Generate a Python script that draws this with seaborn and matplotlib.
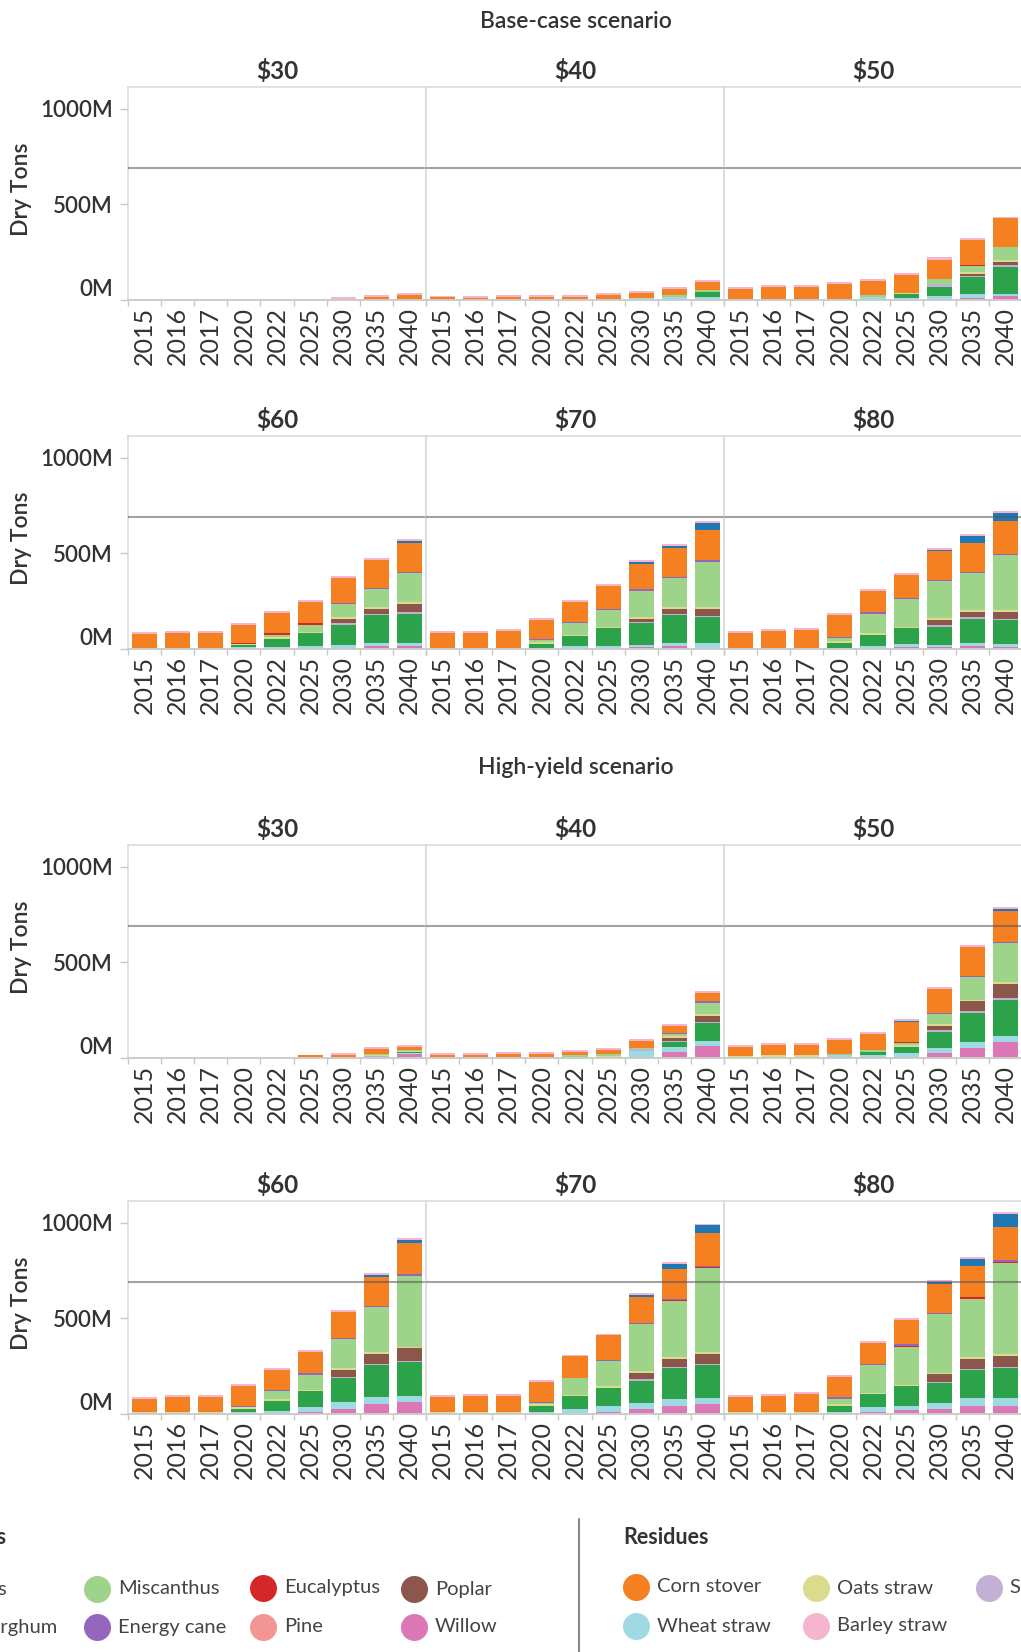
import numpy as np
import pandas as pd
import matplotlib.pyplot as plt
import seaborn as sns

years = ["2015", "2016", "2017", "2020", "2022", "2025", "2030", "2035", "2040"]
prices = ["$30", "$40", "$50", "$60", "$70", "$80"]
scenarios = ["Base-case scenario", "High-yield scenario"]
ref_level = 690  # grey reference line, million dry tons

# Million dry tons. One row per panel, in this order:
# base-case $30, $40, $50, $60, $70, $80, then high-yield $30 ... $80
willow = [
    [0, 0, 0, 0, 0, 0, 0, 0, 0],
    [0, 0, 0, 0, 0, 0, 0, 0, 5],
    [0, 0, 0, 0, 0, 0, 5, 10, 19],
    [0, 0, 0, 0, 0, 3, 7, 17, 17],
    [0, 0, 0, 0, 3, 3, 9, 17, 7],
    [0, 0, 0, 0, 3, 9, 9, 17, 9],
    [0, 0, 0, 0, 0, 0, 0, 5, 19],
    [0, 0, 0, 0, 0, 0, 5, 30, 61],
    [0, 0, 0, 0, 0, 3, 28, 54, 86],
    [0, 0, 0, 0, 3, 9, 24, 51, 61],
    [0, 0, 0, 0, 0, 9, 24, 40, 51],
    [0, 0, 0, 0, 9, 19, 24, 40, 40],
]
wheat_straw = [
    [0, 0, 0, 0, 0, 0, 0, 0, 0],
    [0, 0, 0, 0, 0, 2, 8, 14, 9],
    [0, 0, 0, 5, 17, 12, 15, 19, 14],
    [0, 0, 0, 9, 9, 14, 16, 16, 16],
    [0, 0, 0, 7, 14, 14, 14, 16, 26],
    [0, 0, 0, 7, 14, 19, 14, 16, 19],
    [0, 0, 0, 0, 0, 2, 2, 0, 8],
    [0, 0, 0, 0, 7, 5, 30, 26, 26],
    [3, 5, 5, 14, 14, 24, 26, 31, 31],
    [3, 3, 3, 9, 14, 26, 37, 37, 31],
    [3, 3, 3, 9, 24, 31, 31, 37, 31],
    [3, 3, 3, 9, 26, 21, 31, 42, 42],
]
switchgrass = [
    [0, 0, 0, 0, 0, 0, 0, 0, 0],
    [0, 0, 0, 0, 0, 0, 0, 0, 26],
    [0, 0, 0, 0, 0, 17, 50, 94, 138],
    [0, 0, 0, 10, 42, 68, 105, 147, 152],
    [0, 0, 0, 21, 52, 94, 115, 147, 136],
    [0, 0, 0, 26, 58, 84, 94, 126, 126],
    [0, 0, 0, 0, 0, 0, 0, 0, 3],
    [0, 0, 0, 0, 0, 0, 0, 26, 94],
    [0, 0, 0, 0, 17, 31, 84, 152, 188],
    [0, 0, 0, 16, 52, 84, 126, 168, 178],
    [0, 0, 0, 31, 68, 94, 120, 162, 173],
    [0, 0, 0, 31, 68, 105, 105, 147, 157],
]
sorghum_stubble = [
    [0, 0, 0, 0, 0, 0, 0, 0, 0],
    [0, 0, 0, 0, 0, 0, 0, 0, 0],
    [0, 0, 0, 0, 0, 0, 12, 5, 10],
    [0, 0, 0, 0, 0, 0, 10, 5, 10],
    [0, 0, 0, 0, 0, 0, 5, 5, 5],
    [0, 0, 0, 0, 0, 0, 10, 10, 5],
    [0, 0, 0, 0, 0, 0, 0, 7, 0],
    [0, 0, 0, 0, 0, 0, 10, 7, 7],
    [0, 0, 0, 0, 0, 0, 7, 10, 10],
    [0, 0, 0, 0, 0, 0, 5, 5, 10],
    [0, 0, 0, 0, 0, 0, 10, 5, 5],
    [0, 0, 0, 0, 0, 0, 10, 5, 5],
]
poplar = [
    [0, 0, 0, 0, 0, 0, 0, 0, 0],
    [0, 0, 0, 0, 0, 0, 0, 0, 0],
    [0, 0, 0, 0, 0, 0, 0, 9, 16],
    [0, 0, 0, 0, 0, 0, 21, 26, 42],
    [0, 0, 0, 0, 0, 0, 16, 26, 37],
    [0, 0, 0, 0, 0, 0, 26, 26, 37],
    [0, 0, 0, 0, 0, 0, 0, 0, 0],
    [0, 0, 0, 0, 0, 0, 0, 17, 33],
    [0, 0, 0, 0, 0, 0, 24, 52, 73],
    [0, 0, 0, 0, 0, 0, 37, 52, 68],
    [0, 0, 0, 0, 0, 0, 31, 42, 52],
    [0, 0, 0, 0, 0, 0, 42, 52, 58],
]
oats_straw = [
    [0, 0, 0, 0, 0, 0, 0, 0, 0],
    [0, 0, 0, 0, 0, 0, 0, 0, 0],
    [0, 0, 0, 0, 0, 10, 0, 8, 10],
    [5, 7, 7, 9, 10, 5, 10, 10, 10],
    [7, 7, 7, 7, 5, 5, 10, 10, 10],
    [7, 7, 7, 10, 10, 5, 10, 10, 10],
    [0, 0, 0, 0, 0, 0, 0, 5, 5],
    [5, 5, 3, 3, 0, 5, 0, 9, 10],
    [5, 9, 9, 0, 0, 10, 10, 5, 10],
    [9, 9, 9, 10, 10, 5, 10, 10, 5],
    [9, 9, 9, 10, 10, 10, 10, 10, 10],
    [9, 9, 9, 10, 5, 5, 5, 10, 10],
]
miscanthus = [
    [0, 0, 0, 0, 0, 0, 0, 0, 0],
    [0, 0, 0, 0, 0, 0, 5, 10, 12],
    [0, 0, 0, 0, 8, 0, 28, 35, 68],
    [0, 0, 0, 0, 14, 37, 68, 93, 152],
    [0, 0, 0, 10, 63, 89, 136, 152, 236],
    [0, 0, 0, 16, 99, 147, 194, 194, 288],
    [0, 0, 0, 0, 0, 0, 0, 5, 5],
    [0, 0, 0, 0, 9, 10, 7, 9, 59],
    [0, 0, 0, 5, 12, 10, 52, 120, 204],
    [0, 0, 0, 3, 42, 79, 152, 236, 372],
    [0, 0, 0, 10, 84, 136, 246, 293, 440],
    [0, 0, 0, 31, 147, 199, 309, 304, 476],
]
eucalyptus = [
    [0, 0, 0, 0, 0, 0, 0, 0, 0],
    [0, 0, 0, 0, 0, 0, 0, 0, 0],
    [0, 0, 0, 0, 0, 0, 0, 5, 5],
    [0, 0, 0, 3, 10, 10, 0, 0, 0],
    [0, 0, 0, 0, 0, 0, 0, 0, 0],
    [0, 0, 0, 0, 0, 0, 0, 0, 0],
    [0, 0, 0, 0, 0, 0, 0, 0, 0],
    [0, 0, 0, 0, 0, 0, 0, 0, 0],
    [0, 0, 0, 0, 0, 7, 0, 0, 0],
    [0, 0, 0, 0, 0, 0, 0, 0, 0],
    [0, 0, 0, 0, 0, 0, 0, 10, 5],
    [0, 0, 0, 0, 0, 9, 0, 10, 10],
]
energy_cane = [
    [0, 0, 0, 0, 0, 0, 0, 0, 0],
    [0, 0, 0, 0, 0, 0, 0, 0, 0],
    [0, 0, 0, 0, 0, 0, 0, 0, 0],
    [0, 0, 0, 0, 0, 0, 5, 5, 5],
    [0, 0, 0, 5, 5, 5, 10, 5, 10],
    [0, 0, 0, 5, 10, 5, 5, 5, 5],
    [0, 0, 0, 0, 0, 0, 0, 0, 0],
    [0, 0, 0, 0, 0, 0, 0, 5, 10],
    [0, 0, 0, 0, 0, 0, 5, 5, 5],
    [0, 0, 0, 5, 5, 10, 5, 5, 10],
    [0, 0, 0, 5, 5, 5, 5, 5, 10],
    [0, 0, 0, 10, 5, 7, 5, 5, 10],
]
corn_stover = [
    [0, 0, 0, 0, 0, 3, 6, 17, 28],
    [14, 13, 16, 16, 16, 26, 26, 31, 42],
    [58, 68, 68, 77, 73, 94, 100, 131, 147],
    [72, 79, 79, 96, 101, 110, 131, 148, 152],
    [79, 79, 89, 103, 105, 120, 131, 152, 157],
    [79, 89, 94, 115, 110, 120, 152, 152, 173],
    [0, 0, 0, 0, 0, 12, 16, 24, 20],
    [10, 10, 16, 16, 14, 24, 35, 37, 42],
    [51, 56, 56, 77, 84, 103, 126, 152, 162],
    [68, 78, 78, 105, 105, 110, 136, 152, 162],
    [78, 84, 84, 105, 110, 126, 136, 157, 168],
    [78, 84, 94, 105, 110, 126, 152, 162, 173],
]
biomass_sorghum = [
    [0, 0, 0, 0, 0, 0, 0, 0, 0],
    [0, 0, 0, 0, 0, 0, 0, 0, 0],
    [0, 0, 0, 0, 0, 0, 0, 0, 0],
    [0, 0, 0, 0, 0, 0, 0, 0, 10],
    [0, 0, 0, 0, 0, 0, 10, 10, 37],
    [0, 0, 0, 0, 0, 0, 5, 37, 42],
    [0, 0, 0, 0, 0, 0, 0, 0, 0],
    [0, 0, 0, 0, 0, 0, 0, 0, 0],
    [0, 0, 0, 0, 0, 5, 0, 0, 10],
    [0, 0, 0, 0, 0, 0, 0, 10, 16],
    [0, 0, 0, 0, 0, 0, 10, 26, 42],
    [0, 0, 0, 0, 0, 0, 10, 37, 68],
]
barley_straw = [
    [0, 0, 0, 0, 0, 0, 10, 10, 10],
    [9, 10, 10, 10, 10, 10, 10, 12, 10],
    [10, 10, 10, 10, 14, 10, 15, 10, 10],
    [12, 10, 10, 10, 14, 10, 10, 10, 10],
    [10, 10, 10, 10, 10, 10, 10, 10, 10],
    [10, 10, 10, 10, 10, 10, 10, 10, 10],
    [0, 0, 0, 0, 0, 0, 10, 10, 9],
    [9, 9, 10, 10, 10, 10, 10, 10, 10],
    [10, 10, 10, 10, 10, 10, 10, 10, 10],
    [10, 10, 10, 10, 10, 10, 10, 10, 10],
    [10, 10, 10, 10, 10, 10, 10, 10, 10],
    [10, 10, 10, 10, 10, 10, 10, 10, 10],
]

colors = {
    "Switchgrass": "#2ca24a", "Biomass sorghum": "#1f77b4",
    "Miscanthus": "#9ed38a", "Energy cane": "#9467bd",
    "Eucalyptus": "#d62728", "Pine": "#f39593",
    "Poplar": "#8c564b", "Willow": "#db78b5",
    "Corn stover": "#f58021", "Wheat straw": "#9fdae4",
    "Oats straw": "#dbdb8d", "Barley straw": "#f5b5d1",
    "Sorghum stubble": "#c5b0d5",
}

# bottom -> top, the order the segments are stacked in
stack = [
    ("Willow", willow), ("Wheat straw", wheat_straw), ("Switchgrass", switchgrass),
    ("Sorghum stubble", sorghum_stubble), ("Poplar", poplar), ("Oats straw", oats_straw),
    ("Miscanthus", miscanthus), ("Eucalyptus", eucalyptus), ("Energy cane", energy_cane),
    ("Corn stover", corn_stover), ("Biomass sorghum", biomass_sorghum),
    ("Barley straw", barley_straw),
]

records = []
panels = [(s, p) for s in scenarios for p in prices]
for k, (scen, price) in enumerate(panels):
    for name, vals in stack:
        for year, v in zip(years, vals[k]):
            records.append((scen, price, name, year, v))
df = pd.DataFrame(records, columns=["scenario", "price", "feedstock", "year", "tons"])
df["top"] = df.groupby(["scenario", "price", "year"], sort=False)["tons"].cumsum()

sns.set_theme(style="white")
plt.rcParams["font.family"] = ["Lato", "DejaVu Sans"]
TXT = "#333333"
GRID = "#d9d9d9"

W, H = 1021, 1652
fig = plt.figure(figsize=(W / 100, H / 100), dpi=100)

# overlay in pixel coordinates for titles and legend
ov = fig.add_axes([0, 0, 1, 1])
ov.set_xlim(0, W)
ov.set_ylim(H, 0)
ov.axis("off")

baselines = [300, 649, 1058, 1414]
lefts = [128, 426, 724]
pw, ph = 298, 213

for k, (scen, price) in enumerate(panels):
    s_i, p_i = divmod(k, 6)
    row = s_i * 2 + p_i // 3
    col = p_i % 3
    base = baselines[row]
    ax = fig.add_axes([lefts[col] / W, 1 - base / H, pw / W, ph / H])
    panel = df[(df.scenario == scen) & (df.price == price)]

    # draw cumulative tops from the top segment down so each covers the next
    for name, _ in reversed(stack):
        sub = panel[panel.feedstock == name]
        sns.barplot(data=sub, x="year", y="top", order=years, color=colors[name],
                    saturation=1, width=0.76, errorbar=None, linewidth=0,
                    edgecolor="none", ax=ax, zorder=2)

    ax.axhline(ref_level, color="#555555", alpha=0.55, lw=1.5, zorder=3)
    ax.set_xlim(-0.5, 8.5)
    ax.set_ylim(0, 1115)
    ax.set_xlabel("")
    ax.set_ylabel("")
    for side, sp in ax.spines.items():
        sp.set_color(GRID)
        sp.set_linewidth(1.1)
    ax.spines["bottom"].set_color("#cccccc")
    ax.spines["bottom"].set_linewidth(1.4)

    ax.set_xticks(range(len(years)))
    ax.set_xticklabels(years, rotation=90, fontsize=18, color=TXT,
                       fontfamily=["Liberation Sans Narrow", "Lato"])
    ax.set_xticks(np.arange(-0.5, len(years), 1), minor=True)
    ax.tick_params(axis="x", which="major", length=0, pad=5)
    ax.tick_params(axis="x", which="minor", length=4, color="#c8c8c8", width=1, bottom=True)

    ax.set_yticks([0, 500, 1000])
    if col == 0:
        ax.set_yticklabels(["0M", "500M", "1000M"], fontsize=16, fontweight="semibold", color=TXT)
        ax.yaxis.get_major_ticks()[0].label1.set_verticalalignment("bottom")
        ax.tick_params(axis="y", length=6, color="#c8c8c8", width=1, pad=5, left=True)
        ov.text(21, base - ph / 2 - 4, "Dry Tons", rotation=90, ha="center", va="center",
                fontsize=16.5, fontweight="semibold", color=TXT)
    else:
        ax.tick_params(axis="y", left=False, labelleft=False)

    ov.text(lefts[col] + pw / 2, base - ph - 16, price, ha="center", va="center",
            fontsize=17.5, fontweight="bold", color=TXT)

ov.text(576, 21, scenarios[0], ha="center", va="center", fontsize=16.5, fontweight="semibold", color=TXT)
ov.text(576, 768, scenarios[1], ha="center", va="center", fontsize=16.5, fontweight="semibold", color=TXT)

# legend (cut by the picture edges like the original)
LEG = "#444444"
dot = (27 * 0.72) ** 2
ov.text(6, 1537, "Energy crops", ha="right", va="center", fontsize=15.5, fontweight="bold", color=TXT)
ov.text(7, 1589, "Switchgrass", ha="right", va="center", fontsize=14.5, color=LEG)
ov.text(57, 1628, "Biomass sorghum", ha="right", va="center", fontsize=14.5, color=LEG)
crop_items = [(97, 1589, "Miscanthus"), (97, 1627, "Energy cane"),
              (263, 1588, "Eucalyptus"), (263, 1627, "Pine"),
              (414, 1589, "Poplar"), (414, 1627, "Willow")]
residue_items = [(636, 1587, "Corn stover"), (636, 1626, "Wheat straw"),
                 (816, 1588, "Oats straw"), (816, 1626, "Barley straw"),
                 (989, 1588, "Sorghum stubble")]
for x, y, name in crop_items + residue_items:
    ov.scatter([x], [y], s=dot, color=colors[name], linewidths=0)
    ov.text(x + 21, y, name, ha="left", va="center", fontsize=14.5, color=LEG)

ov.plot([579, 579], [1519, 1652], color="#888888", lw=1.5)
ov.text(623, 1537, "Residues", ha="left", va="center", fontsize=15.5, fontweight="bold", color=TXT)

fig.savefig("out.png", dpi=100)
